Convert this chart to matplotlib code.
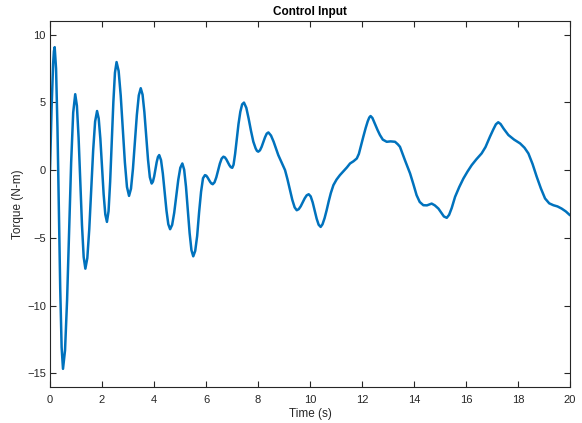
import matplotlib
matplotlib.use("Agg")
import matplotlib.pyplot as plt

plt.rcParams['font.family'] = ['Liberation Sans', 'DejaVu Sans']

time_s = [
    0.0, 0.06, 0.12, 0.15, 0.18,
    0.233, 0.287, 0.34, 0.393, 0.447, 0.50,
    0.578, 0.657, 0.735, 0.813, 0.892, 0.97,
    1.035, 1.10, 1.165, 1.23, 1.295, 1.36,
    1.435, 1.51, 1.585, 1.66, 1.735, 1.81,
    1.873, 1.937, 2.0, 2.063, 2.127, 2.19,
    2.252, 2.313, 2.375, 2.437, 2.498, 2.56,
    2.64, 2.72, 2.80, 2.88, 2.96, 3.04,
    3.115, 3.19, 3.265, 3.34, 3.415, 3.49,
    3.56, 3.63, 3.70, 3.77, 3.84, 3.91,
    3.958, 4.007, 4.055, 4.103, 4.152, 4.20,
    4.27, 4.34, 4.41, 4.48, 4.55, 4.62,
    4.698, 4.777, 4.855, 4.933, 5.012, 5.09,
    5.16, 5.23, 5.30, 5.37, 5.44, 5.51,
    5.585, 5.66, 5.735, 5.81, 5.885, 5.96,
    6.01, 6.06, 6.11, 6.16, 6.21, 6.26,
    6.328, 6.397, 6.465, 6.533, 6.602, 6.67,
    6.727, 6.783, 6.84, 6.897, 6.953, 7.01,
    7.06, 7.12, 7.18, 7.25, 7.32, 7.39, 7.46,
    7.55, 7.64, 7.73, 7.82, 7.91, 7.96, 8.01,
    8.075, 8.14, 8.205, 8.27, 8.335, 8.40,
    8.5, 8.6, 8.7, 8.78, 8.9, 9.04, 9.13, 9.23, 9.32, 9.41, 9.49,
    9.567, 9.643, 9.72, 9.797, 9.873, 9.95,
    10.027, 10.103, 10.18, 10.257, 10.333, 10.41,
    10.48, 10.56, 10.64, 10.72, 10.8, 10.9, 11.02, 11.15, 11.3, 11.42,
    11.54, 11.67, 11.8, 11.88, 11.96, 12.05, 12.14, 12.22, 12.28, 12.33,
    12.40, 12.5, 12.6, 12.69, 12.8, 12.95, 13.1, 13.27, 13.38, 13.46,
    13.55, 13.65, 13.75, 13.85, 13.97, 14.1, 14.22, 14.36, 14.5, 14.68,
    14.8, 14.94, 15.05, 15.15, 15.26, 15.35, 15.45, 15.58, 15.74, 15.9,
    16.06, 16.22, 16.4, 16.6, 16.75, 16.92, 17.05, 17.15, 17.24, 17.33,
    17.45, 17.63, 17.85, 18.08, 18.25, 18.4, 18.56, 18.72, 18.88, 19.04,
    19.2, 19.36, 19.52, 19.68, 19.84, 20.0,
]

torque_nm = [
    0.0, 4.5, 7.85, 8.76, 9.07,
    7.48, 3.14, -2.80, -8.73, -13.07, -14.66,
    -13.30, -9.59, -4.53, 0.54, 4.24, 5.6,
    4.74, 2.38, -0.84, -4.05, -6.41, -7.27,
    -6.49, -4.36, -1.45, 1.45, 3.58, 4.36,
    3.81, 2.31, 0.27, -1.78, -3.27, -3.82,
    -3.03, -0.87, 2.08, 5.02, 7.18, 7.97,
    7.31, 5.50, 3.03, 0.57, -1.24, -1.9,
    -1.37, 0.09, 2.07, 4.06, 5.51, 6.04,
    5.57, 4.28, 2.52, 0.77, -0.52, -0.99,
    -0.85, -0.465, 0.06, 0.585, 0.97, 1.11,
    0.74, -0.26, -1.63, -2.99, -3.99, -4.36,
    -4.04, -3.15, -1.93, -0.72, 0.17, 0.49,
    0.03, -1.22, -2.94, -4.65, -5.90, -6.36,
    -5.96, -4.86, -3.1, -1.6, -0.6, -0.37,
    -0.41, -0.54, -0.71, -0.87, -0.99, -1.04,
    -0.90, -0.53, -0.03, 0.48, 0.85, 0.99,
    0.94, 0.79, 0.58, 0.37, 0.22, 0.17,
    0.4, 1.2, 2.22, 3.4, 4.3, 4.85, 4.98,
    4.6, 3.8, 2.9, 2.1, 1.6, 1.42, 1.36,
    1.46, 1.72, 2.07, 2.42, 2.69, 2.78,
    2.55, 2.1, 1.55, 1.11, 0.6, 0.0, -0.65, -1.48, -2.2, -2.75, -2.96,
    -2.88, -2.67, -2.37, -2.08, -1.86, -1.78,
    -1.94, -2.38, -2.99, -3.59, -4.03, -4.19,
    -4.0, -3.55, -2.96, -2.3, -1.7, -1.11, -0.7, -0.37, -0.05, 0.2,
    0.49, 0.65, 0.86, 1.2, 1.8, 2.46, 3.1, 3.6, 3.88, 3.99,
    3.85, 3.4, 2.95, 2.59, 2.25, 2.09, 2.12, 2.09, 1.9, 1.72,
    1.25, 0.74, 0.25, -0.25, -1.0, -1.85, -2.35, -2.59, -2.6, -2.47,
    -2.6, -2.84, -3.15, -3.42, -3.52, -3.3, -2.8, -1.97, -1.25, -0.62,
    -0.1, 0.37, 0.8, 1.23, 1.7, 2.46, 3.0, 3.38, 3.53, 3.4,
    3.05, 2.59, 2.25, 1.97, 1.65, 1.23, 0.45, -0.49, -1.35, -2.09,
    -2.45, -2.59, -2.68, -2.84, -3.05, -3.33,
]

x_ticks = [0, 2, 4, 6, 8, 10, 12, 14, 16, 18, 20]
y_ticks = [-15, -10, -5, 0, 5, 10]

fig = plt.figure(figsize=(5.82, 4.23), dpi=100)
ax = fig.add_axes([50 / 582, 1 - 387 / 423, 520 / 582, 366 / 423])

ax.plot(time_s, torque_nm, color='#0072BD', linewidth=1.8,
        solid_joinstyle='round', solid_capstyle='round')

ax.set_xlim(0, 20)
ax.set_ylim(-16, 11)
ax.set_xticks(x_ticks)
ax.set_yticks(y_ticks)

edge = '#262626'
for s in ax.spines.values():
    s.set_color(edge)
    s.set_linewidth(0.8)
ax.tick_params(direction='in', length=4, width=0.8, colors=edge,
               labelsize=8, top=True, right=True)
ax.tick_params(axis='y', pad=3)
ax.tick_params(axis='x', pad=6)
for lab in ax.get_xticklabels() + ax.get_yticklabels():
    lab.set_color(edge)

ax.set_xlabel('Time (s)', fontsize=8.5, color=edge, labelpad=2)
ax.set_ylabel('Torque (N-m)', fontsize=8.5, color=edge, labelpad=2)
ax.set_title('Control Input', fontsize=8.5, fontweight='bold', color='black', pad=4)

fig.savefig('out.png', dpi=100)
